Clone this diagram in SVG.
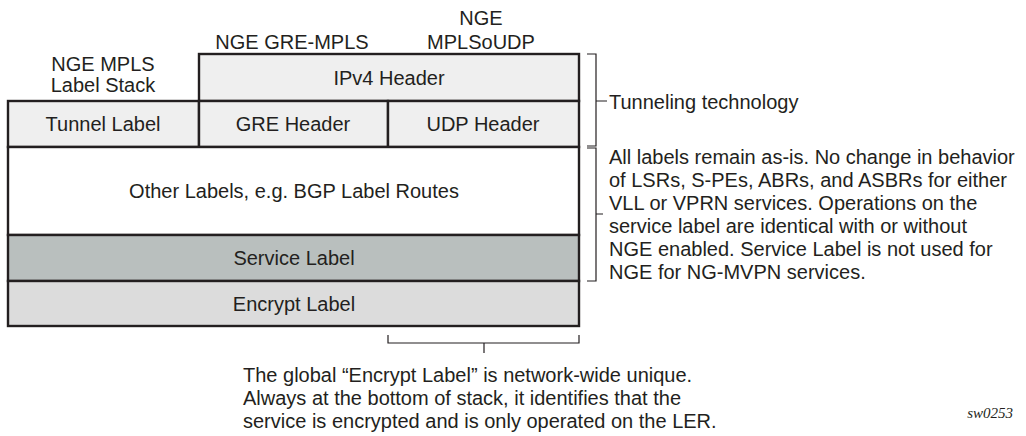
<svg xmlns="http://www.w3.org/2000/svg" width="1026" height="436" viewBox="0 0 1026 436">
<style>
.box{stroke:#231f20;stroke-width:2.4}
.t{font-family:"Liberation Sans",Arial,sans-serif;font-size:20px;fill:#231f20}
.c{text-anchor:middle}
.br{fill:none;stroke:#231f20;stroke-width:1.2}
</style>
<rect width="1026" height="436" fill="#ffffff"/>
<g id="titles">
<text class="t c" x="103" y="71">NGE MPLS</text>
<text class="t c" x="103" y="92">Label Stack</text>
<text class="t c" x="292" y="49">NGE GRE-MPLS</text>
<text class="t c" x="481" y="25">NGE</text>
<text class="t c" x="481" y="49">MPLSoUDP</text>
</g>
<g id="ipv4"><rect class="box" x="199" y="54" width="380" height="47" fill="#efefef"/><text class="t c" x="389" y="85">IPv4 Header</text></g>
<g id="tunnel"><rect class="box" x="8" y="101" width="191" height="46" fill="#efefef"/><text class="t c" x="103" y="131">Tunnel Label</text></g>
<g id="gre"><rect class="box" x="199" y="101" width="189" height="46" fill="#efefef"/><text class="t c" x="293" y="131">GRE Header</text></g>
<g id="udp"><rect class="box" x="388" y="101" width="191" height="46" fill="#efefef"/><text class="t c" x="483" y="131">UDP Header</text></g>
<g id="other"><rect class="box" x="8" y="147" width="571" height="88" fill="#ffffff"/><text class="t c" x="294" y="198">Other Labels, e.g. BGP Label Routes</text></g>
<g id="service"><rect class="box" x="8" y="235" width="571" height="46" fill="#b9bfbe"/><text class="t c" x="294" y="265">Service Label</text></g>
<g id="encrypt"><rect class="box" x="8" y="281" width="571" height="45" fill="#dcdcdc"/><text class="t c" x="294" y="311">Encrypt Label</text></g>
<g id="connectors">
<path class="br" d="M587,54 H596 V146 H587 M596,101 H607"/>
<path class="br" d="M587,148 H596 V281 H587 M596,214 H603"/>
<path class="br" d="M388,335 V343 H579 V335 M484,343 V353"/>
</g>
<g id="notes">
<text class="t" x="609" y="109">Tunneling technology</text>
<text class="t" x="609" y="164">All labels remain as-is. No change in behavior</text>
<text class="t" x="609" y="187">of LSRs, S-PEs, ABRs, and ASBRs for either</text>
<text class="t" x="609" y="210">VLL or VPRN services. Operations on the</text>
<text class="t" x="609" y="233">service label are identical with or without</text>
<text class="t" x="609" y="256">NGE enabled. Service Label is not used for</text>
<text class="t" x="609" y="279">NGE for NG-MVPN services.</text>
<text class="t" x="243" y="382">The global “Encrypt Label” is network-wide unique.</text>
<text class="t" x="243" y="405">Always at the bottom of stack, it identifies that the</text>
<text class="t" x="243" y="428">service is encrypted and is only operated on the LER.</text>
<text x="1013" y="418" text-anchor="end" font-family="Liberation Serif,serif" font-style="italic" font-size="15" fill="#231f20">sw0253</text>
</g>
</svg>
